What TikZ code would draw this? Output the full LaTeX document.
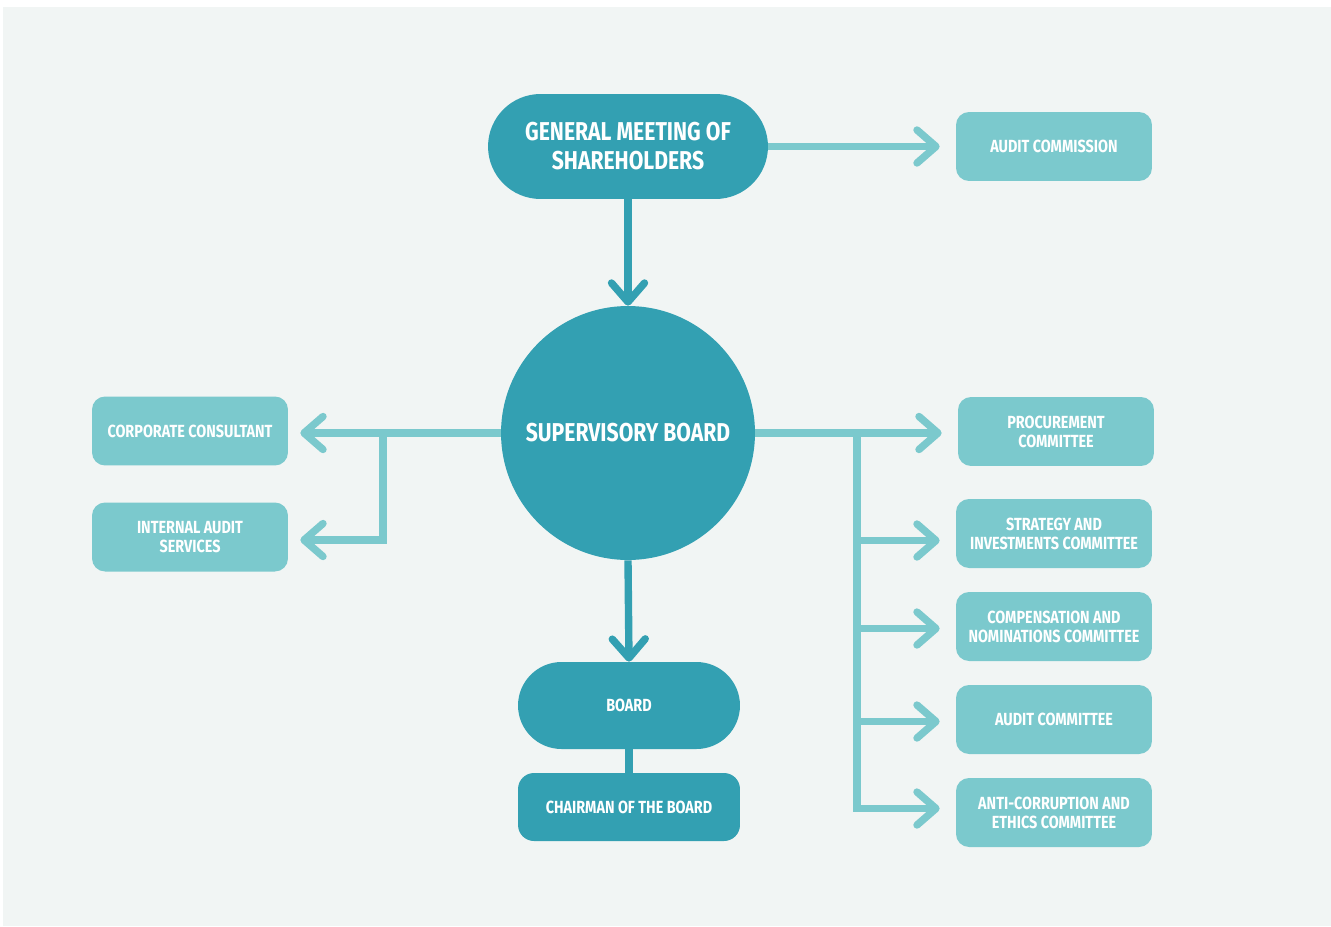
\documentclass[tikz,border=0pt]{standalone}
\usepackage{fontspec}
\setmainfont{Fira Sans}[FakeStretch=0.82]
\usetikzlibrary{arrows.meta,calc}
\definecolor{bgc}{HTML}{F1F5F4}
\definecolor{dark}{HTML}{33A0B2}
\definecolor{light}{HTML}{7BC9CD}
\tikzset{
  darknode/.style={fill=dark, text=white, font=\bfseries\fontsize{14.7}{16.5}\selectfont, align=center, inner sep=0pt},
  smalldark/.style={fill=dark, text=white, font=\bfseries\fontsize{10}{10.8}\selectfont, align=center, inner sep=0pt},
  lightbox/.style={fill=light, text=white, font=\bfseries\fontsize{10}{10.8}\selectfont, align=center, inner sep=0pt,
    minimum width=3.92cm, minimum height=1.38cm, rounded corners=0.26cm},
  conn/.style={line width=4.2pt},
  arr/.style={line width=4.2pt, -{Straight Barb[length=0.38cm, width=0.66cm, line cap=round, line join=round]}},
}
\begin{document}
\begin{tikzpicture}[x=0.02cm, y=-0.02cm]
\useasboundingbox (0,0) rectangle (1331,926);
\fill[white] (0,0) rectangle (1331,926);
\fill[bgc] (3,7) rectangle (1331,926);

\node[darknode, minimum width=5.6cm, minimum height=2.1cm, rounded corners=1.05cm] (gm) at (628,146.5) {GENERAL MEETING OF\\SHAREHOLDERS};
\node[lightbox] (ac) at (1054,146.5) {AUDIT COMMISSION};
\node[darknode, circle, minimum size=5.08cm] (sb) at (628,433) {SUPERVISORY BOARD};
\node[lightbox] (cc) at (190,431) {CORPORATE CONSULTANT};
\node[lightbox] (ias) at (190,537) {INTERNAL AUDIT\\SERVICES};
\node[lightbox] (pc) at (1056,431.5) {PROCUREMENT\\COMMITTEE};
\node[lightbox] (sic) at (1054,533.5) {STRATEGY AND\\INVESTMENTS COMMITTEE};
\node[lightbox] (cnc) at (1054,626.5) {COMPENSATION AND\\NOMINATIONS COMMITTEE};
\node[lightbox] (auc) at (1054,719.5) {AUDIT COMMITTEE};
\node[lightbox] (ace) at (1054,812.5) {ANTI-CORRUPTION AND\\ETHICS COMMITTEE};
\node[smalldark, minimum width=4.44cm, minimum height=1.74cm, rounded corners=0.87cm] (board) at (629,705.5) {BOARD};
\node[smalldark, minimum width=4.44cm, minimum height=1.36cm, rounded corners=0.32cm] (chair) at (629,807) {CHAIRMAN OF THE BOARD};

\coordinate (bl) at (383,433);
\coordinate (br) at (857,433);

% top
\draw[arr, light, shorten >=0.32cm] (gm.east) -- (ac.west);
\draw[arr, dark] (gm.south) -- (sb.north);
\draw[arr, dark] (sb.south) -- (board.north);
\draw[conn, dark] (board.south) -- (chair.north);

% left
\draw[arr, light, shorten >=0.24cm] (sb.west) -- (cc.east |- sb.west);
\draw[arr, light, shorten >=0.24cm] (bl) |- ($(ias.east)+(0,3)$);

% right
\draw[arr, light, shorten >=0.32cm] (sb.east) -- (pc.west |- sb.east);
\draw[arr, light, shorten >=0.32cm] (br) |- ($(sic.west)+(0,7)$);
\draw[arr, light, shorten >=0.32cm] (br) |- ($(cnc.west)+(0,2)$);
\draw[arr, light, shorten >=0.32cm] (br) |- ($(auc.west)+(0,2)$);
\draw[arr, light, shorten >=0.32cm] (br) |- ($(ace.west)+(0,-4)$);
\end{tikzpicture}
\end{document}
